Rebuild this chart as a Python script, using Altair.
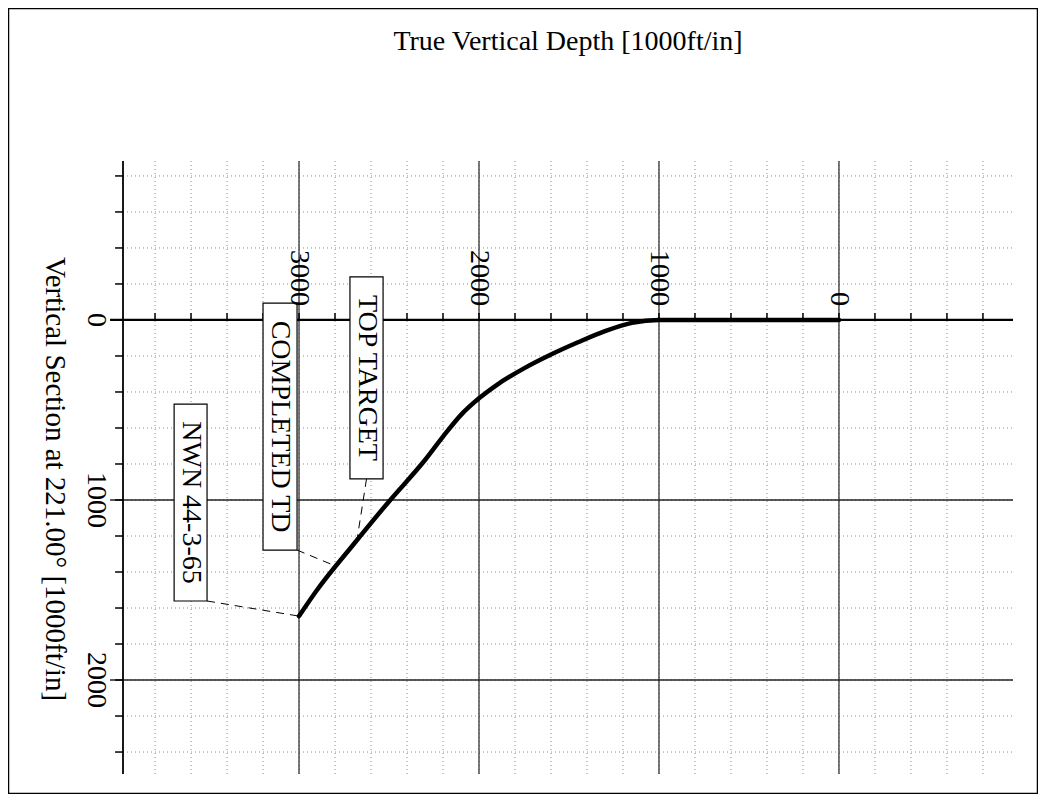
import altair as alt
import pandas as pd

# ---------------- data ----------------
path_tvd = [0, 1000, 1150, 1300, 1450, 1600, 1750, 1900, 2000, 2100, 2200, 2300, 2500, 2700, 2900, 3000]
path_vs = [0, 0, 16, 62, 124, 192, 269, 360, 435, 527, 648, 778, 1008, 1250, 1500, 1645]

tvd_tick_labels = [3000, 2000, 1000, 0]
vs_tick_labels = [0, 1000, 2000]

minor_tvd = [-800, -600, -400, -200, 0, 200, 400, 600, 800, 1000, 1200, 1400, 1600, 1800,
             2000, 2200, 2400, 2600, 2800, 3000, 3200, 3400, 3600, 3800]
minor_vs = [-800, -600, -400, -200, 0, 200, 400, 600, 800, 1000, 1200, 1400, 1600, 1800,
            2000, 2200, 2400]
major_tvd = [0, 1000, 2000, 3000]
major_vs = [0, 1000, 2000]

annot_labels = ["TOP TARGET", "COMPLETED TD", "NWN 44-3-65"]
annot_box_tvd1 = [2717, 3200, 3694]
annot_box_tvd2 = [2533, 3011, 3511]
annot_box_vs1 = [-239, -94, 467]
annot_box_vs2 = [883, 1278, 1561]
annot_from_tvd = [2625, 3011, 3511]
annot_from_vs = [883, 1278, 1561]
annot_to_tvd = [2680, 2811, 3000]
annot_to_vs = [1235, 1361, 1645]

TVD_MIN, TVD_MAX = -967, 3978
VS_MIN, VS_MAX = -883, 2522

FONT = "Liberation Serif"
W, H = 890, 613

xs = alt.Scale(domain=[TVD_MIN, TVD_MAX], reverse=True, nice=False, zero=False)
ys = alt.Scale(domain=[VS_MIN, VS_MAX], reverse=True, nice=False, zero=False)


def X(f):
    return alt.X(f, type="quantitative", scale=xs, axis=None)


def Y(f):
    return alt.Y(f, type="quantitative", scale=ys, axis=None)


# ---------------- tables ----------------
vgrid_minor = pd.DataFrame({"tvd": minor_tvd, "v0": VS_MIN, "v1": VS_MAX})
hgrid_minor = pd.DataFrame({"vs": minor_vs, "t0": TVD_MAX, "t1": TVD_MIN})
vgrid_major = pd.DataFrame({"tvd": major_tvd, "v0": VS_MIN, "v1": VS_MAX})
hgrid_major = pd.DataFrame({"vs": [v for v in major_vs if v != 0], "t0": 4050, "t1": TVD_MIN})
zero_line = pd.DataFrame({"vs": [0], "t0": [4050], "t1": [TVD_MIN]})
left_axis = pd.DataFrame({"tvd": [TVD_MAX], "v0": [VS_MIN], "v1": [VS_MAX]})
top_ticks = pd.DataFrame({"tvd": minor_tvd, "v0": 0, "v1": -39})
left_ticks = pd.DataFrame({"vs": minor_vs, "t0": TVD_MAX, "t1": 4022})
path = pd.DataFrame({"tvd": path_tvd, "vs": path_vs, "i": list(range(len(path_tvd)))})
annots = pd.DataFrame({
    "label": annot_labels,
    "bt1": annot_box_tvd1, "bt2": annot_box_tvd2,
    "bv1": annot_box_vs1, "bv2": annot_box_vs2,
    "ft": annot_from_tvd, "fv": annot_from_vs,
    "tt": annot_to_tvd, "tv": annot_to_vs,
})
annots["ct"] = (annots["bt1"] + annots["bt2"]) / 2
annots["cv"] = (annots["bv1"] + annots["bv2"]) / 2
top_lab = pd.DataFrame({"tvd": tvd_tick_labels, "vs": 0, "txt": [str(v) for v in tvd_tick_labels]})
left_lab = pd.DataFrame({"vs": vs_tick_labels, "txt": [str(v) for v in vs_tick_labels]})

# ---------------- layers ----------------
l_vgrid_minor = alt.Chart(vgrid_minor).mark_rule(color="#8c8c8c", strokeWidth=1, strokeDash=[1, 3]).encode(
    x=X("tvd"), y=Y("v0"), y2="v1")
l_hgrid_minor = alt.Chart(hgrid_minor).mark_rule(color="#8c8c8c", strokeWidth=1, strokeDash=[1, 3]).encode(
    y=Y("vs"), x=X("t0"), x2="t1")
l_vgrid_major = alt.Chart(vgrid_major).mark_rule(color="#333333", strokeWidth=1.3).encode(
    x=X("tvd"), y=Y("v0"), y2="v1")
l_hgrid_major = alt.Chart(hgrid_major).mark_rule(color="#222222", strokeWidth=1.6).encode(
    y=Y("vs"), x=X("t0"), x2="t1")
l_zero = alt.Chart(zero_line).mark_rule(color="black", strokeWidth=2.3).encode(
    y=Y("vs"), x=X("t0"), x2="t1")
l_left_axis = alt.Chart(left_axis).mark_rule(color="black", strokeWidth=1.8).encode(
    x=X("tvd"), y=Y("v0"), y2="v1")
l_top_ticks = alt.Chart(top_ticks).mark_rule(color="black", strokeWidth=1.5).encode(
    x=X("tvd"), y=Y("v0"), y2="v1")
l_left_ticks = alt.Chart(left_ticks).mark_rule(color="black", strokeWidth=1.5).encode(
    y=Y("vs"), x=X("t0"), x2="t1")

l_path = alt.Chart(path).mark_line(color="black", strokeWidth=4.5, interpolate="monotone",
                                    strokeCap="round", strokeJoin="round").encode(
    x=X("tvd"), y=Y("vs"), order=alt.Order("i:Q"))

l_leader = alt.Chart(annots).mark_rule(color="black", strokeWidth=1, strokeDash=[8, 6]).encode(
    x=X("ft"), x2="tt", y=Y("fv"), y2="tv")
l_box = alt.Chart(annots).mark_rect(fill="white", stroke="black", strokeWidth=1.2).encode(
    x=X("bt1"), x2="bt2", y=Y("bv1"), y2="bv2")
l_box_text = alt.Chart(annots).mark_text(font=FONT, fontSize=28, angle=90, align="center",
                                         baseline="middle", color="black").encode(
    x=X("ct"), y=Y("cv"), text="label:N")

l_top_lab = alt.Chart(top_lab).mark_text(font=FONT, fontSize=28, angle=90, align="right",
                                         baseline="middle", dx=-14, color="black").encode(
    x=X("tvd"), y=Y("vs"), text="txt:N")
l_left_lab = alt.Chart(left_lab).mark_text(font=FONT, fontSize=28, angle=90, align="center",
                                           baseline="middle", color="black").encode(
    x=alt.value(-27), y=Y("vs"), text="txt:N")

one = pd.DataFrame({"t": ["True Vertical Depth [1000ft/in]"],
                    "s": ["Vertical Section at 221.00\u00b0 [1000ft/in]"]})
l_title = alt.Chart(one).mark_text(font=FONT, fontSize=28, align="center", baseline="middle",
                                   color="black").encode(
    x=alt.value(445), y=alt.value(-119), text="t:N")
l_ytitle = alt.Chart(one).mark_text(font=FONT, fontSize=29, angle=90, align="center",
                                    baseline="middle", color="black").encode(
    x=alt.value(-68), y=alt.value(318), text="s:N")
l_frame = alt.Chart(one).mark_rect(filled=False, stroke="black", strokeWidth=1.5).encode(
    x=alt.value(-114.5), x2=alt.value(914.5), y=alt.value(-152.5), y2=alt.value(632.5))

chart = alt.layer(
    l_vgrid_minor, l_hgrid_minor, l_vgrid_major, l_hgrid_major, l_left_ticks, l_top_ticks,
    l_left_axis, l_zero, l_path, l_leader, l_box, l_box_text, l_top_lab, l_left_lab,
    l_title, l_ytitle, l_frame,
).properties(
    width=W, height=H,
    autosize=alt.AutoSizeParams(type="none"),
    padding={"left": 115, "top": 153, "right": 25, "bottom": 20},
    background="white",
).configure_view(stroke=None)

chart.save("out.html", embed_options={"renderer": "svg", "actions": False})
